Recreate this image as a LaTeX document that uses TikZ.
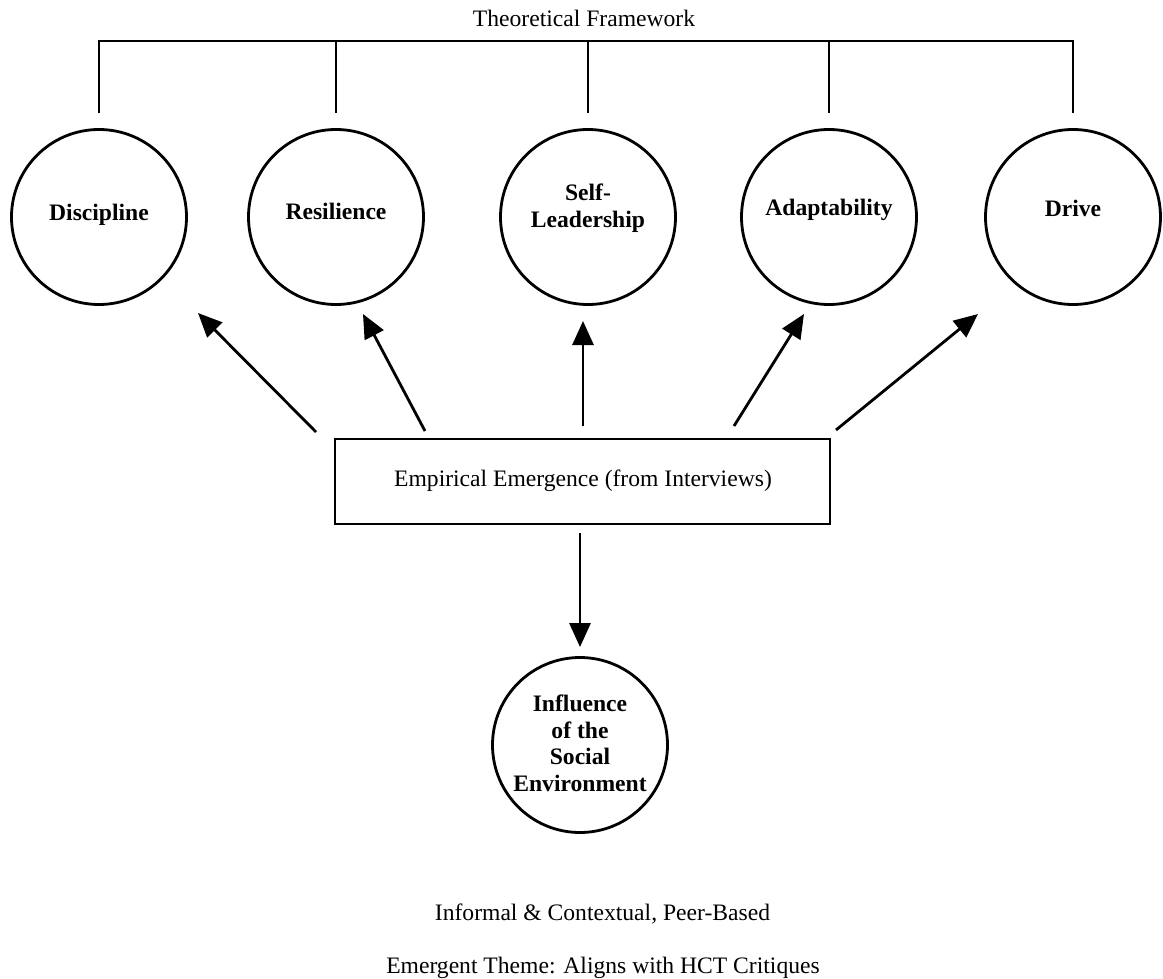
\documentclass[tikz,border=0pt]{standalone}
\usepackage{fontspec}
\setmainfont{Liberation Serif}
\usetikzlibrary{arrows.meta}
\begin{document}
\begin{tikzpicture}[x=1pt,y=-1pt,
  every node/.style={font=\fontsize{23.6}{26.5}\selectfont},
  ln/.style={line width=2.8pt},
  circ/.style={draw, circle, line width=2.8pt, minimum size=175pt, inner sep=0pt},
  lab/.style={font=\fontsize{23.6}{26.5}\selectfont\bfseries, align=center},
  lab1/.style={lab, text height=16pt, text depth=5pt},
  arr/.style={line width=2.8pt, -{Triangle[length=24pt,width=21pt]}},
  plain/.style={anchor=base, inner sep=0pt}
]
\useasboundingbox (0,0) rectangle (1163,979);

\node[plain] (title) at (584,27) {Theoretical Framework};

\node[circ, label={[lab1, yshift=1.5pt]center:Discipline}] (disc) at (99,217) {};
\node[circ, label={[lab1, yshift=2.5pt]center:Resilience}] (res) at (336,217) {};
\node[circ, label={[lab, yshift=9pt]center:Self-\\Leadership}] (self) at (588,217) {};
\node[circ, label={[lab1, yshift=7.5pt]center:Adaptability}] (adap) at (829,217) {};
\node[circ, label={[lab1, yshift=6.5pt]center:Drive}] (drive) at (1073,217) {};

\coordinate (bar) at (0,41);
\draw[ln] ([yshift=15pt]disc.north) -- (disc.north |- bar) -- (drive.north |- bar) -- ([yshift=15pt]drive.north);
\draw[ln] ([yshift=15pt]res.north) -- (res.north |- bar);
\draw[ln] ([yshift=15pt]self.north) -- (self.north |- bar);
\draw[ln] ([yshift=15pt]adap.north) -- (adap.north |- bar);

\node[draw, line width=2.8pt, minimum width=495pt, minimum height=85pt, inner sep=0pt] (box) at (582.5,481.5) {};
\node[plain] (boxtext) at (583,486) {Empirical Emergence (from Interviews)};

\coordinate (t1) at (316,432); \coordinate (h1) at (198,313);
\coordinate (t2) at (425,431); \coordinate (h2) at (363,314);
\coordinate (t3) at (583,426); \coordinate (h3) at (583,321);
\coordinate (t4) at (734,426); \coordinate (h4) at (804,314);
\coordinate (t5) at (836,430); \coordinate (h5) at (978,314);
\draw[arr] (t1) -- (h1);
\draw[arr] (t2) -- (h2);
\draw[arr] (t3) -- (h3);
\draw[arr] (t4) -- (h4);
\draw[arr] (t5) -- (h5);

\node[circ, label={[lab, yshift=1.5pt]center:Influence\\of the\\Social\\Environment}] (infl) at (580,745) {};
\coordinate (t6) at (580,533);
\draw[arr] (t6) -- ([yshift=9pt]infl.north);

\node[plain] (note1) at (602.5,920) {Informal \& Contextual, Peer-Based};
\node[plain] (note2) at (603,973) {Emergent Theme: Aligns with HCT Critiques};
\end{tikzpicture}
\end{document}
